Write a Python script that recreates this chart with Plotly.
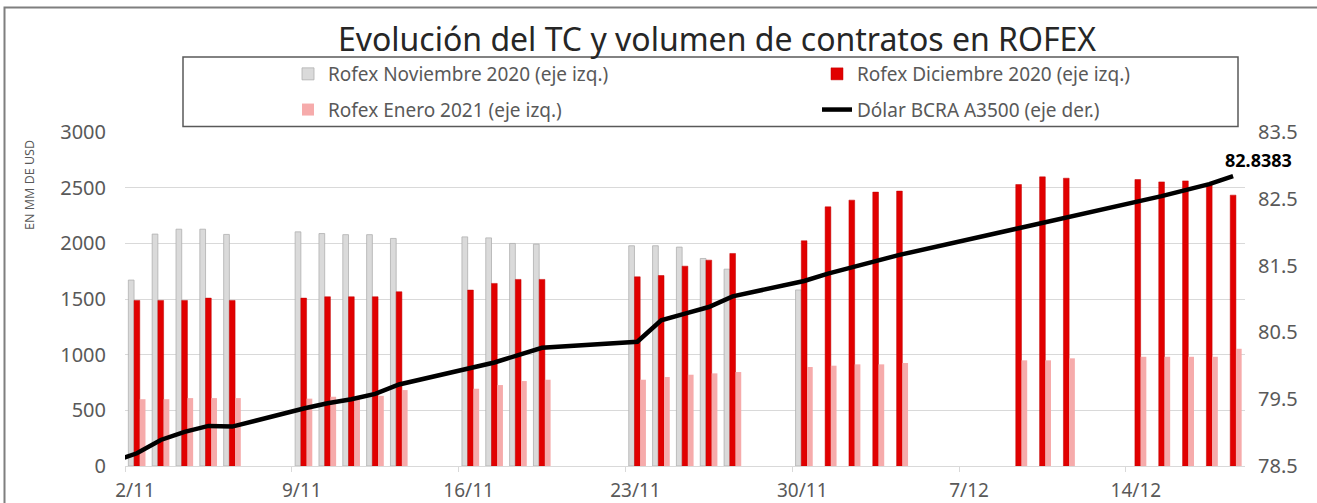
import plotly.graph_objects as go

# ---------------- data ----------------
dates = [
    "2020-11-02", "2020-11-03", "2020-11-04", "2020-11-05", "2020-11-06",
    "2020-11-09", "2020-11-10", "2020-11-11", "2020-11-12", "2020-11-13",
    "2020-11-16", "2020-11-17", "2020-11-18", "2020-11-19",
    "2020-11-23", "2020-11-24", "2020-11-25", "2020-11-26", "2020-11-27",
    "2020-11-30", "2020-12-01", "2020-12-02", "2020-12-03", "2020-12-04",
    "2020-12-09", "2020-12-10", "2020-12-11",
    "2020-12-14", "2020-12-15", "2020-12-16", "2020-12-17", "2020-12-18",
]

rofex_nov = [
    1670, 2083, 2127, 2127, 2080,
    2103, 2088, 2078, 2078, 2044,
    2058, 2049, 1999, 1993,
    1978, 1978, 1966, 1864, 1768,
    1581, None, None, None, None,
    None, None, None,
    None, None, None, None, None,
]

rofex_dic = [
    1487, 1487, 1487, 1508, 1487,
    1508, 1520, 1520, 1520, 1565,
    1580, 1640, 1676, 1676,
    1699, 1711, 1795, 1849, 1909,
    2023, 2328, 2388, 2460, 2469,
    2528, 2597, 2585,
    2573, 2552, 2561, 2535, 2433,
]

rofex_ene = [
    600, 600, 610, 610, 610,
    605, 622, 615, 630, 682,
    694, 727, 763, 775,
    775, 799, 820, 832, 844,
    889, 901, 913, 913, 925,
    949, 949, 967,
    981, 981, 981, 981, 1053,
]

dolar_dates = ["2020-10-30"] + dates
dolar_a3500 = [
    78.3233,
    78.69, 78.89, 79.01, 79.10, 79.09,
    79.36, 79.44, 79.50, 79.58, 79.72,
    79.96, 80.05, 80.16, 80.27,
    80.36, 80.68, 80.78, 80.88, 81.04,
    81.27, 81.38, 81.47, 81.57, 81.66,
    82.06, 82.14, 82.22,
    82.45, 82.54, 82.63, 82.72, 82.8383,
]

x_range = ["2020-11-02", "2020-12-19"]
x_tickvals = ["2020-11-02", "2020-11-09", "2020-11-16", "2020-11-23",
              "2020-11-30", "2020-12-07", "2020-12-14"]
x_ticktext = ["2/11", "9/11", "16/11", "23/11", "30/11", "7/12", "14/12"]
y_tickvals = [0, 500, 1000, 1500, 2000, 2500, 3000]
y2_tickvals = [78.5, 79.5, 80.5, 81.5, 82.5, 83.5]

title_text = "Evolución del TC y volumen de contratos en ROFEX"
y_title = "EN MM DE USD"
names = ["Rofex Noviembre 2020 (eje izq.)", "Rofex Diciembre 2020 (eje izq.)",
         "Rofex Enero 2021 (eje izq.)", "Dólar BCRA A3500 (eje der.)"]

# ---------------- figure ----------------
W, H = 1317, 503
ML, MR, MT, MB = 125, 72, 132, 37
PW, PH = W - ML - MR, H - MT - MB


def px_x(p):
    return (p - ML) / PW


def px_y(p):
    return (H - MB - p) / PH


FONT = "Noto Sans"
GREY_TXT = "#595959"
DAY = 86400000

fig = go.Figure()
fig.add_trace(go.Bar(
    x=dates, y=rofex_nov, name=names[0], legend="legend", legendgroup="a",
    xperiod=DAY, xperiodalignment="middle",
    marker=dict(color="#dadada", line=dict(color="#b0b0b0", width=0.8)),
))
fig.add_trace(go.Bar(
    x=dates, y=rofex_dic, name=names[1], legend="legend2", legendgroup="b",
    xperiod=DAY, xperiodalignment="middle",
    marker=dict(color="#e10000", line=dict(color="#c00000", width=0.5)),
))
fig.add_trace(go.Bar(
    x=dates, y=rofex_ene, name=names[2], legend="legend", legendgroup="c",
    xperiod=DAY, xperiodalignment="middle",
    marker=dict(color="#f6abab", line=dict(width=0)),
))
fig.add_trace(go.Scatter(
    x=dolar_dates, y=dolar_a3500, name=names[3], legend="legend2", legendgroup="d",
    xperiod=DAY, xperiodalignment="middle", yaxis="y2",
    mode="lines", line=dict(color="#000000", width=4.5),
))

# last value label
fig.add_annotation(
    x=dolar_dates[-1] + " 12:00", y=dolar_a3500[-1], yref="y2", xref="x",
    text="<b>%s</b>" % format(dolar_a3500[-1], ".4f"),
    showarrow=False, xanchor="left", yanchor="bottom", xshift=-10, yshift=2,
    font=dict(family=FONT, size=18, color="#000000"),
)
# left axis title (placed near the top, as in the original)
fig.add_annotation(
    x=px_x(29), y=px_y(185), xref="paper", yref="paper",
    text=y_title, textangle=-90, showarrow=False,
    xanchor="center", yanchor="middle",
    font=dict(family=FONT, size=12.5, color=GREY_TXT),
)

legend_common = dict(
    bgcolor="rgba(0,0,0,0)", borderwidth=0, orientation="v",
    font=dict(family=FONT, size=19, color=GREY_TXT),
    tracegroupgap=8, yanchor="top", xanchor="left", itemclick=False,
)

fig.update_layout(
    width=W, height=H,
    margin=dict(l=ML, r=MR, t=MT, b=MB),
    paper_bgcolor="white", plot_bgcolor="white",
    barmode="group", bargap=0.28, bargroupgap=0,
    font=dict(family=FONT, color=GREY_TXT),
    title=dict(text=title_text, x=px_x(717), xref="paper", xanchor="center",
               y=1 - 40 / H, yanchor="middle",
               font=dict(family=FONT, size=32, color="#262626")),
    legend=dict(x=px_x(288), y=px_y(55), **legend_common),
    legend2=dict(x=px_x(817), y=px_y(55), **legend_common),
    xaxis=dict(
        type="date", range=x_range, tickvals=x_tickvals, ticktext=x_ticktext,
        showgrid=False, showline=True, linecolor="#d9d9d9", linewidth=1,
        ticks="outside", ticklen=5, tickcolor="#d9d9d9",
        ticklabelshift=10, ticklabelstandoff=2, automargin=False,
        tickfont=dict(family=FONT, size=19, color=GREY_TXT),
        zeroline=False,
    ),
    yaxis=dict(
        range=[0, 3000], tickvals=y_tickvals, showgrid=True,
        gridcolor="#d9d9d9", gridwidth=1, zeroline=False, showline=False,
        ticklabelstandoff=18, automargin=False,
        tickfont=dict(family=FONT, size=20, color=GREY_TXT),
    ),
    yaxis2=dict(
        range=[78.5, 83.5], tickvals=y2_tickvals, tickformat=".1f",
        overlaying="y", side="right", showgrid=False, zeroline=False,
        showline=False, ticklabelstandoff=12, automargin=False,
        tickfont=dict(family=FONT, size=20, color=GREY_TXT),
    ),
    shapes=[
        # legend frame
        dict(type="rect", xref="paper", yref="paper",
             x0=px_x(183), x1=px_x(1238), y0=px_y(126.5), y1=px_y(57),
             line=dict(color="#595959", width=1.5), fillcolor="rgba(0,0,0,0)",
             layer="above"),
        # outer chart frame
        dict(type="rect", xref="paper", yref="paper",
             x0=px_x(4.5), x1=px_x(1325), y0=px_y(510), y1=px_y(7.5),
             line=dict(color="#7f7f7f", width=2), fillcolor="rgba(0,0,0,0)",
             layer="above"),
    ],
)

fig.write_html("out.html")
